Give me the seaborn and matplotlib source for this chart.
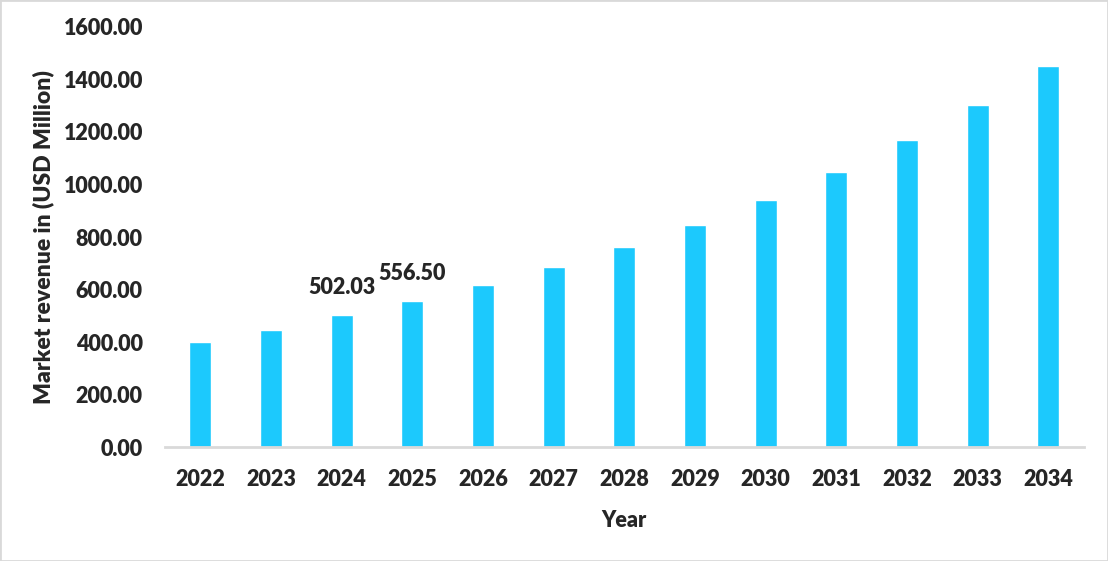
"""
Market revenue bar chart, 2022-2034
"""

import seaborn as sns
import matplotlib.pyplot as plt
from matplotlib.patches import Rectangle

years = ['2022', '2023', '2024', '2025', '2026', '2027', '2028',
         '2029', '2030', '2031', '2032', '2033', '2034']
revenue = [401, 447, 502.03, 556.50, 617, 686, 762,
           846, 941, 1048, 1170, 1303, 1451]
labelled_years = ['2024', '2025']

WEIGHT = 'heavy'


def bar_chart():
    sns.set_style('white')
    plt.rcParams['font.family'] = ['Lato', 'DejaVu Sans']
    plt.rcParams['font.weight'] = WEIGHT

    fig = plt.figure(figsize=(11.08, 5.61), dpi=100)
    ax = fig.add_axes([0.149, 0.203, 0.829, 0.749])

    sns.barplot(x=years, y=revenue, color='#1CC9FD', width=0.31,
                saturation=1, ax=ax)

    ax.set_xlim(-0.5, len(years) - 0.5)
    ax.set_ylim(0, 1600)
    ax.set_yticks(range(0, 1601, 200))
    ax.set_yticklabels(['%.2f' % v for v in range(0, 1601, 200)])

    # only the bottom spine, light grey
    for side in ['top', 'right', 'left']:
        ax.spines[side].set_visible(False)
    ax.spines['bottom'].set_color('#d9d9d9')
    ax.spines['bottom'].set_linewidth(2)

    ax.tick_params(axis='both', length=0, labelsize=15.5)
    ax.tick_params(axis='x', pad=16)
    ax.tick_params(axis='y', pad=16)
    for t in ax.get_xticklabels() + ax.get_yticklabels():
        t.set_fontweight(WEIGHT)

    # value labels for two bars
    for i, y in enumerate(years):
        if y in labelled_years:
            ax.text(i, revenue[i] + 65, '%.2f' % revenue[i], ha='center',
                    va='bottom', fontsize=15.5, fontweight=WEIGHT)

    ax.set_xlabel('Year', fontsize=15.5, fontweight=WEIGHT, va='center')
    ax.xaxis.set_label_coords(0.5, -0.174)
    ax.set_ylabel('Market revenue in (USD Million)', fontsize=16.5,
                  fontweight=WEIGHT, va='center')
    ax.yaxis.set_label_coords(-0.133, 0.5)

    fig.add_artist(Rectangle((0, 0), 1, 1, transform=fig.transFigure,
                             fill=False, edgecolor='#d9d9d9', linewidth=2))

    plt.savefig('out.png', dpi=100)


if __name__ == "__main__":
    bar_chart()
